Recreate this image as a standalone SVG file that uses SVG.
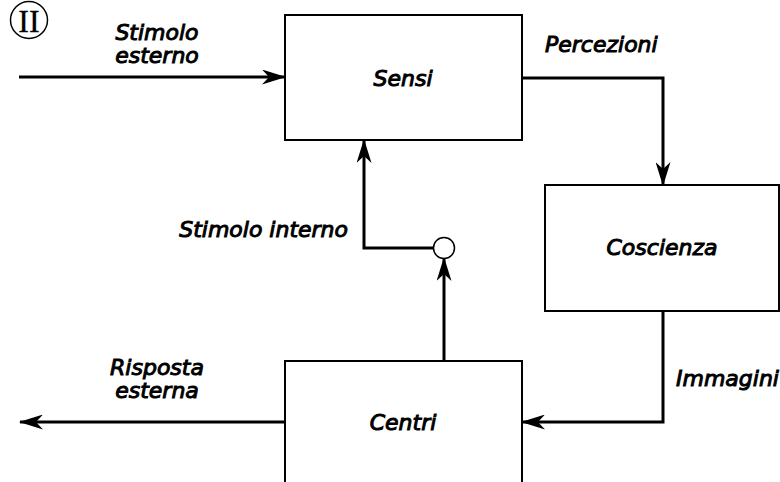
<svg xmlns="http://www.w3.org/2000/svg" width="780" height="482" viewBox="0 0 780 482">
<defs>
<style>
.box{fill:#fff;stroke:#000;stroke-width:2}
.ln{fill:none;stroke:#000;stroke-width:3}
.t{font-family:"DejaVu Sans",sans-serif;font-style:italic;font-weight:normal;font-size:22px;fill:#000;stroke:#000;stroke-width:1}
.c{text-anchor:middle}
</style>
<marker id="ah" viewBox="0 0 24 15" refX="23" refY="7.5" markerWidth="24" markerHeight="15" markerUnits="userSpaceOnUse" orient="auto">
<path d="M0,0 L24,7.5 L0,15 L7,7.5 Z" fill="#000"/>
</marker>
</defs>
<rect width="780" height="482" fill="#fff"/>
<g id="label-II">
<circle cx="29" cy="20" r="18.5" fill="none" stroke="#000" stroke-width="1.5"/>
<text x="29" y="32" font-family="Liberation Serif,serif" font-size="32" text-anchor="middle" stroke="#000" stroke-width="0.3">II</text>
</g>
<g id="connectors">
<path class="ln" d="M19,77 L285,77" marker-end="url(#ah)"/>
<path class="ln" d="M522,78 L663,78 L663,185" marker-end="url(#ah)"/>
<path class="ln" d="M663,311 L663,422 L522,422" marker-end="url(#ah)"/>
<path class="ln" d="M285,422 L20,422" marker-end="url(#ah)"/>
<path class="ln" d="M444,360 L444,258" marker-end="url(#ah)"/>
<path class="ln" d="M434,248 L364,248 L364,140" marker-end="url(#ah)"/>
<circle cx="444" cy="248" r="10.5" fill="#fff" stroke="#000" stroke-width="1.5"/>
</g>
<g id="sensi">
<rect class="box" x="285" y="15" width="237" height="125"/>
<text class="t c" x="403" y="86">Sensi</text>
</g>
<g id="coscienza">
<rect class="box" x="545" y="185" width="234" height="126"/>
<text class="t c" x="662" y="255">Coscienza</text>
</g>
<g id="centri">
<rect class="box" x="285" y="361" width="237" height="130"/>
<text class="t c" x="403" y="430">Centri</text>
</g>
<g id="labels">
<text class="t c" x="157" y="40">Stimolo</text>
<text class="t c" x="157" y="63">esterno</text>
<text class="t" x="545" y="52">Percezioni</text>
<text class="t" x="348" y="237" text-anchor="end">Stimolo interno</text>
<text class="t" x="676" y="386">Immagini</text>
<text class="t c" x="157" y="375">Risposta</text>
<text class="t c" x="157" y="398">esterna</text>
</g>
</svg>
